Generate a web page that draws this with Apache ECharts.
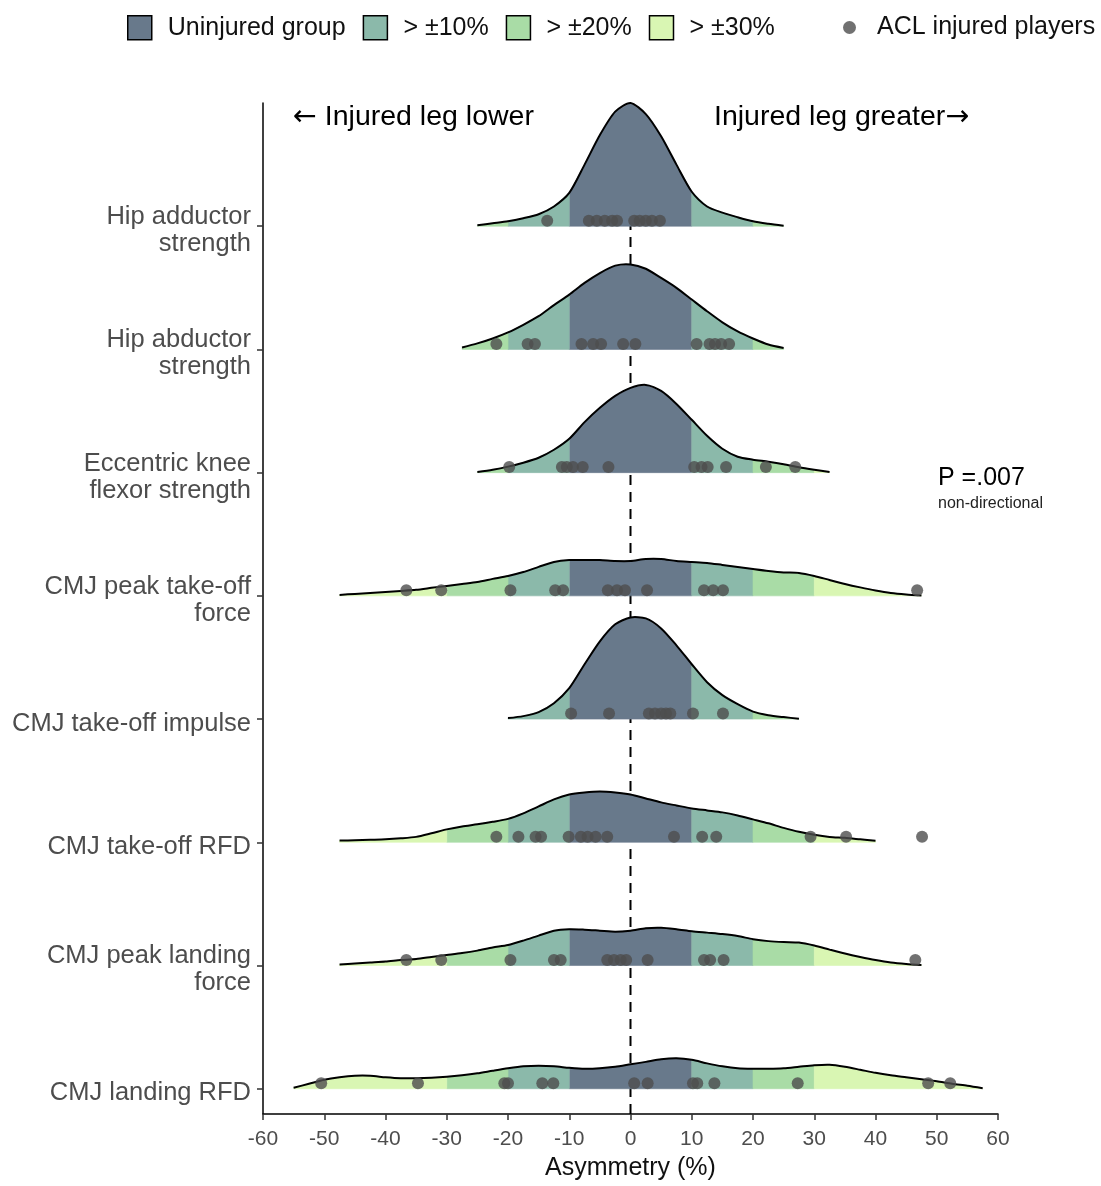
<!DOCTYPE html>
<html>
<head>
<meta charset="utf-8">
<script src="https://cdn.jsdelivr.net/npm/echarts@6/dist/echarts.min.js"></script>
<style>
html,body{margin:0;padding:0;background:#fff;}
#chart{width:1101px;height:1186px;}
</style>
</head>
<body>
<div id="chart"></div>
<script>
// ---- data ----
const categories = [
  'Hip adductor\nstrength',
  'Hip abductor\nstrength',
  'Eccentric knee\nflexor strength',
  'CMJ peak take-off\nforce',
  'CMJ take-off impulse',
  'CMJ take-off RFD',
  'CMJ peak landing\nforce',
  'CMJ landing RFD'
];
const xTicks = [-60,-50,-40,-30,-20,-10,0,10,20,30,40,50,60];
const bandLimits = [0, 10, 20, 30, 1000];
const bandNames = ['Uninjured group', '> \u00b110%', '> \u00b120%', '> \u00b130%'];
const pointName = 'ACL injured players';

// relative density of the uninjured group (tallest = 100), sampled every 2.5 % from the start value
const densityStep = 2.5;
const densityStart = [-25, -27.5, -25, -47.5, -20, -47.5, -47.5, -55];
const densHipAdd  = [0.8,2.4,4,6.5,9.7,16,27,50,74,93,100,91,73,50,28,16,11,7.3,4,2,0.4];
const densHipAbd  = [1.6,4.9,8.9,13.8,20,27,36,44.5,54,62,68,69,65.5,58,50,40.5,31,22,14.6,8.9,4,1.2];
const densEccKnee = [0.6,2.4,4.9,8.1,12.1,18.6,27.5,41,52.6,62.3,68.8,71.2,66.3,55.8,42.9,29.9,19.4,12.9,10.5,8.9,6.9,4.4,2.4,0.6];
const densPeakTO  = [0.8,1.6,2.4,3.2,4,4.9,6.5,8.1,9.7,11.3,13.8,16.2,19.4,23.5,27.5,29.1,29.1,29.1,28.3,28.3,29.9,29.9,28.3,27.5,26.7,25.1,23.5,21.8,20.2,19,18.6,16.2,12.9,9.7,6.9,4.4,2.4,1.2,0.4];
const densImpulse = [0.8,2.4,5.7,12.9,25.1,44.5,63.1,76.9,82.5,81.7,73.6,59.9,44.5,29.9,19.4,12.1,6.1,3.2,1.6,0.3];
const densRFDTO   = [1.4,1.6,2,2.4,3.2,4.4,7.3,10.5,12.9,14.6,16.6,19,23.5,29.1,34.8,38.8,40.5,41.3,40.5,38.8,35.6,32.4,29.9,27.5,25.9,24.3,21.8,18.6,15.4,11.7,8.5,6.1,4.4,3.6,2.4,1.2];
const densPeakLand= [0.8,1.6,2.4,3.2,4.4,5.3,6.9,8.5,10.1,12.1,14.6,16.6,20.2,24.3,28.3,29.5,29.1,28.3,27.5,28.3,30.3,30.7,29.5,27.9,26.7,25.5,23.9,21.4,19.8,19,18.6,16.2,12.9,9.7,6.9,4.4,2.4,1.2,0.4];
const densRFDLand = [0.8,4,7.3,9.3,10.5,10.5,9.3,8.5,8.5,8.9,9.7,10.9,12.5,14.6,16.6,18.2,18.6,18.2,17,16.2,16.6,17.8,19.8,21.8,23.9,24.7,23.5,20.6,18.2,16.6,16.2,16.2,16.6,17.8,19,19.4,17.8,15.4,12.9,10.9,9.3,7.7,6.1,4,2.4,0.4];
const densities = [densHipAdd, densHipAbd, densEccKnee, densPeakTO, densImpulse, densRFDTO, densPeakLand, densRFDLand];

// asymmetry (%) of ACL injured players
const ptsHipAdd  = [-13.6,-6.8,-5.5,-4.2,-3.0,-2.2,0.6,1.5,2.5,3.5,4.8];
const ptsHipAbd  = [-21.9,-16.8,-15.6,-8.0,-6.1,-4.8,-1.2,0.8,10.8,12.9,13.8,14.8,16.1];
const ptsEccKnee = [-19.8,-11.2,-10.4,-9.4,-7.8,-3.6,10.4,11.6,12.6,15.6,22.1,26.9];
const ptsPeakTO  = [-36.6,-30.9,-19.6,-12.3,-11.0,-3.7,-2.2,-0.9,2.7,12.0,13.5,15.1,46.8];
const ptsImpulse = [-9.7,-3.5,3.0,4.0,5.0,5.8,6.5,10.2,15.1];
const ptsRFDTO   = [-21.9,-18.3,-15.5,-14.6,-10.1,-8.1,-7.0,-5.7,-3.8,7.1,11.7,14.0,29.4,35.2,47.6];
const ptsPeakLand= [-36.6,-30.9,-19.6,-12.5,-11.4,-3.8,-2.7,-1.6,-0.7,2.8,12.0,13.0,15.2,46.5];
const ptsRFDLand = [-50.5,-34.7,-20.6,-20.0,-14.4,-12.6,0.6,2.8,10.2,10.9,13.7,27.3,48.6,52.2];
const injuredPoints = [ptsHipAdd, ptsHipAbd, ptsEccKnee, ptsPeakTO, ptsImpulse, ptsRFDTO, ptsPeakLand, ptsRFDLand];

// ---- styling ----
const bandColors = ['#68798b', '#8bb9aa', '#a9dca6', '#d9f6b3'];
const FONT = "'Liberation Sans', Arial, sans-serif";
const ARROWFONT = "'DejaVu Sans', sans-serif";
const nR = categories.length;
const pointLift = 0.045;
const labelShift = 0.036;
function basePos(r){ return nR - 1 - r; }

function heightAt(r, x){
  const vals = densities[r], x0 = densityStart[r];
  const t = (x - x0) / densityStep;
  const i = Math.floor(t);
  if (i < 0) return vals[0];
  if (i >= vals.length - 1) return vals[vals.length - 1];
  const f = t - i;
  return vals[i] * (1 - f) + vals[i + 1] * f;
}
function clipCurve(r, a, b){
  const vals = densities[r], x0 = densityStart[r];
  const xmax = x0 + (vals.length - 1) * densityStep;
  const lo = Math.max(a, x0), hi = Math.min(b, xmax);
  if (lo >= hi) return null;
  const pts = [[lo, heightAt(r, lo)]];
  for (let i = 0; i < vals.length; i++) {
    const x = x0 + i * densityStep;
    if (x > lo && x < hi) pts.push([x, vals[i]]);
  }
  pts.push([hi, heightAt(r, hi)]);
  return pts;
}

function bandSeries(k){
  const lo = bandLimits[k], hi = bandLimits[k + 1];
  return {
    type: 'custom', name: bandNames[k], z: 2,
    itemStyle: { color: bandColors[k] },
    data: categories.map((c, r) => [0, basePos(r)]),
    renderItem: function(params, api){
      const r = params.dataIndex, base = basePos(r);
      const ranges = lo === 0 ? [[-hi, hi]] : [[-hi, -lo], [lo, hi]];
      const children = [];
      ranges.forEach(function(rg){
        const pts = clipCurve(r, rg[0], rg[1]);
        if (!pts) return;
        const poly = pts.map(p => api.coord([p[0], base + p[1] / 100]));
        poly.push(api.coord([pts[pts.length - 1][0], base]));
        poly.push(api.coord([pts[0][0], base]));
        children.push({ type: 'polygon', shape: { points: poly },
          style: { fill: bandColors[k], stroke: bandColors[k], lineWidth: 0.6 } });
      });
      return { type: 'group', children: children };
    }
  };
}

const outlineSeries = {
  type: 'custom', name: 'outline', z: 3, silent: true,
  data: categories.map((c, r) => [0, basePos(r)]),
  renderItem: function(params, api){
    const r = params.dataIndex, base = basePos(r);
    const vals = densities[r], x0 = densityStart[r];
    const pts = vals.map((v, i) => api.coord([x0 + i * densityStep, base + v / 100]));
    return { type: 'polyline', shape: { points: pts, smooth: 0.25 },
      style: { fill: null, stroke: '#000', lineWidth: 2 } };
  }
};

const zeroLine = {
  type: 'custom', name: 'zero', z: 1, silent: true,
  data: [[0, 0]],
  renderItem: function(params, api){
    const p1 = api.coord([0, -0.205]);
    const p2 = api.coord([0, 8]);
    return { type: 'line', shape: { x1: p1[0], y1: p1[1], x2: p2[0], y2: p2[1] },
      style: { stroke: '#000', lineWidth: 2, lineDash: [10, 7] } };
  }
};

const scatterData = [];
injuredPoints.forEach((arr, r) => arr.forEach(x => scatterData.push([x, basePos(r) + pointLift])));

const chart = echarts.init(document.getElementById('chart'), null, { renderer: 'canvas' });
chart.setOption({
  animation: false,
  backgroundColor: '#fff',
  textStyle: { fontFamily: FONT },
  grid: { left: 263, right: 103, top: 103, bottom: 68, containLabel: false },
  legend: [
    { data: bandNames.map(n => ({ name: n, icon: 'rect' })), left: 127, top: 15, padding: 0,
      itemWidth: 24, itemHeight: 24, itemGap: 17, selectedMode: false,
      itemStyle: { borderColor: '#000', borderWidth: 1.5 },
      textStyle: { fontSize: 25, color: '#111', fontFamily: FONT, padding: [0, 0, 0, 11] } },
    { data: [{ name: pointName, icon: 'circle' }], left: 843, top: 15, padding: 0,
      itemWidth: 13, itemHeight: 13, selectedMode: false,
      textStyle: { fontSize: 25, color: '#111', fontFamily: FONT, padding: [0, 0, 0, 16] } }
  ],
  xAxis: {
    type: 'value', min: -60, max: 60, interval: 10,
    name: 'Asymmetry (%)', nameLocation: 'middle', nameGap: 42,
    nameTextStyle: { fontSize: 25, color: '#111', fontFamily: FONT },
    axisLine: { show: true, onZero: false, lineStyle: { color: '#000', width: 1.5 } },
    axisTick: { show: true, length: 6, lineStyle: { color: '#333', width: 1.5 } },
    axisLabel: { fontSize: 21, color: '#4d4d4d', margin: 15, fontFamily: FONT,
      formatter: v => xTicks.indexOf(v) >= 0 ? String(v) : '' },
    splitLine: { show: false }
  },
  yAxis: {
    type: 'value', min: -0.205, max: 8,
    axisLine: { show: true, onZero: false, lineStyle: { color: '#000', width: 1.5 } },
    axisTick: { show: true, length: 6, customValues: categories.map((c, r) => basePos(r)),
      lineStyle: { color: '#333', width: 1.5 } },
    axisLabel: { show: true, fontSize: 25.5, color: '#4d4d4d', margin: 12, lineHeight: 27, align: 'right',
      fontFamily: FONT,
      customValues: categories.map((c, r) => basePos(r) - labelShift),
      formatter: v => categories[nR - 1 - Math.round(v)] },
    splitLine: { show: false }
  },
  graphic: [
    { type: 'text', left: 293, top: 103, style: {
        text: '{a|\u2190} Injured leg lower', fontSize: 28.5, fill: '#000', fontFamily: FONT,
        rich: { a: { fontFamily: ARROWFONT, fontSize: 28.5, fill: '#000' } } } },
    { type: 'text', left: 714, top: 103, style: {
        text: 'Injured leg greater{a|\u2192}', fontSize: 28.5, fill: '#000', fontFamily: FONT,
        rich: { a: { fontFamily: ARROWFONT, fontSize: 28.5, fill: '#000' } } } },
    { type: 'text', left: 938, top: 466, style: { text: 'P =.007', fontSize: 25, fill: '#000', fontFamily: FONT } },
    { type: 'text', left: 938, top: 496, style: { text: 'non-directional', fontSize: 16, fill: '#222', fontFamily: FONT } }
  ],
  series: [
    zeroLine,
    bandSeries(0), bandSeries(1), bandSeries(2), bandSeries(3),
    outlineSeries,
    { type: 'scatter', name: pointName, z: 4, symbolSize: 12,
      itemStyle: { color: '#4d4d4d' }, data: scatterData }
  ]
});
</script>
</body>
</html>
